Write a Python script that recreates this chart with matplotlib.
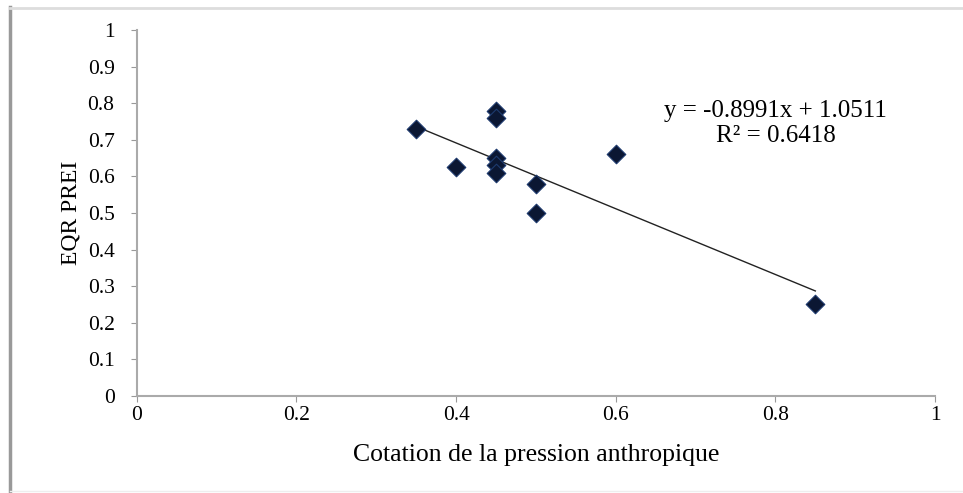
import numpy as np
import matplotlib
matplotlib.use('Agg')
import matplotlib.pyplot as plt
from matplotlib.lines import Line2D

# anthropogenic pressure score vs EQR PREI
pression = [0.35, 0.40, 0.45, 0.45, 0.45, 0.45, 0.45, 0.50, 0.50, 0.60, 0.85]
eqr = [0.73, 0.625, 0.78, 0.76, 0.65, 0.63, 0.61, 0.58, 0.50, 0.66, 0.25]

slope = -0.8991
intercept = 1.0511
r2 = 0.6418

x_ticks = [0, 0.2, 0.4, 0.6, 0.8, 1]
y_ticks = [0, 0.1, 0.2, 0.3, 0.4, 0.5, 0.6, 0.7, 0.8, 0.9, 1]

plt.rcParams['font.family'] = ['Liberation Serif', 'DejaVu Serif']

fig = plt.figure(figsize=(9.63, 4.93), dpi=100)
ax = fig.add_axes([0.142, 0.197, 0.829, 0.742])

ax.scatter(pression, eqr, marker='D', s=90, color='#0b1733',
           edgecolors='#1d3a6e', linewidths=0.8, zorder=3)

# linear trendline over the data range
xs = np.array([min(pression), max(pression)])
ax.plot(xs, slope * xs + intercept, color='#222222', lw=1.0, zorder=2)

eq_text = 'y = %.4fx + %.4f' % (slope, intercept)
ax.text(0.80, 0.78, eq_text, ha='center', va='center', fontsize=18)
ax.text(0.80, 0.71, 'R² = %.4f' % r2, ha='center', va='center', fontsize=18)

ax.set_xlim(0, 1)
ax.set_ylim(0, 1)
ax.set_xticks(x_ticks)
ax.set_xticklabels(['0', '0.2', '0.4', '0.6', '0.8', '1'])
ax.set_yticks(y_ticks)
ax.set_yticklabels(['0', '0.1', '0.2', '0.3', '0.4', '0.5', '0.6', '0.7',
                    '0.8', '0.9', '1'])
ax.tick_params(axis='both', labelsize=15.5, color='#999999', length=4,
               direction='out')
ax.tick_params(axis='y', pad=12)
ax.tick_params(axis='x', pad=3)

for side in ['top', 'right']:
    ax.spines[side].set_visible(False)
for side in ['left', 'bottom']:
    ax.spines[side].set_color('#aaaaaa')
    ax.spines[side].set_linewidth(1.5)

ax.set_xlabel('Cotation de la pression anthropique', fontsize=18.5, labelpad=14)
ax.set_ylabel('EQR PREI', fontsize=17, labelpad=4)

# outer frame lines
fig.add_artist(Line2D([0.0103, 0.0103], [0.0, 0.985], transform=fig.transFigure,
                      color='#999999', lw=2.5))
fig.add_artist(Line2D([0.0103, 1.0], [0.984, 0.984], transform=fig.transFigure,
                      color='#dddddd', lw=2))
fig.add_artist(Line2D([0.0103, 1.0], [0.004, 0.004], transform=fig.transFigure,
                      color='#eeeeee', lw=1))

fig.savefig('out.png', dpi=100)
